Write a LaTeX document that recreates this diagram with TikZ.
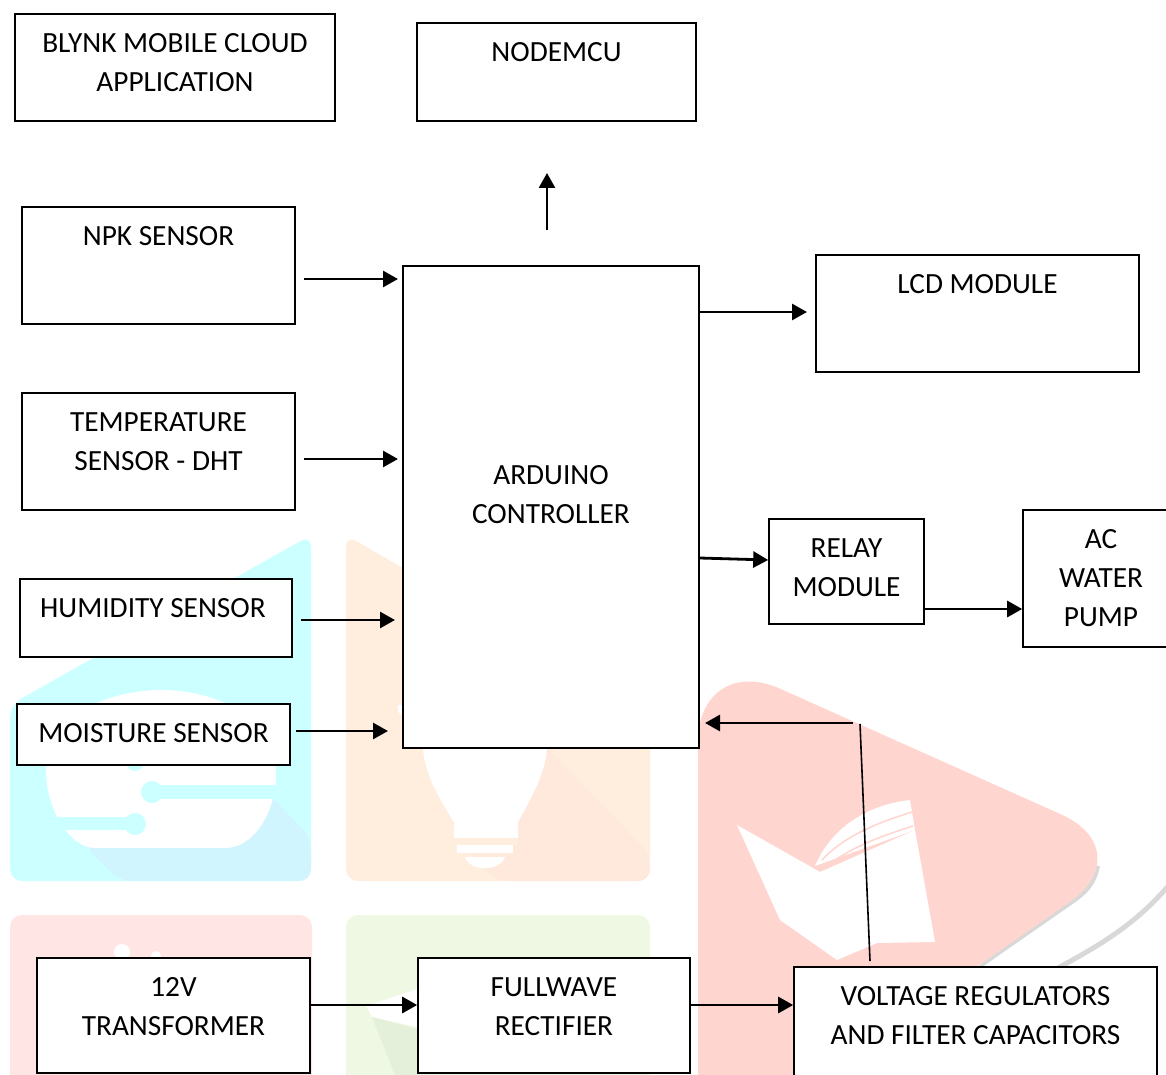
\documentclass[tikz,border=0pt]{standalone}
\usepackage{fontspec}
\setmainfont{Carlito}
\usetikzlibrary{arrows.meta}
\definecolor{wmcyan}{HTML}{CCFFFF}
\definecolor{wmcyanb}{HTML}{D1F5FF}
\definecolor{wmorange}{HTML}{FFEEDD}
\definecolor{wmorangeb}{HTML}{FFE8DC}
\definecolor{wmpink}{HTML}{FFE6E4}
\definecolor{wmgreen}{HTML}{EEF8E2}
\definecolor{wmgreenb}{HTML}{E4F0DA}
\definecolor{wmred}{HTML}{FFD5CF}
\definecolor{wmgray}{HTML}{D8D8D8}
\tikzset{
	block/.style={draw=black,fill=white,line width=1.6pt,minimum width=#1},
	boxtext/.style={anchor=north,inner sep=0pt,inner ysep=20pt,align=center,font=\fontsize{29.3}{39}\selectfont},
	arrow/.style={line width=2.8pt,-{Triangle[length=15pt,width=16pt]}},
}
\begin{document}
\begin{tikzpicture}[x=1pt,y=-1pt]
		\clip (0,0) rectangle (1166,1075);
		% background marks
		\fill[wmcyan,rounded corners=12pt] (10,705) -- (311,535) -- (311,881) -- (10,881) -- cycle;
		\fill[wmcyanb,rounded corners=12pt] (265,790) -- (311,838) -- (311,881) -- (120,881) -- (84,845) -- cycle;
		\fill[white] (46,770) .. controls (46,715) and (110,690) .. (161,690) .. controls (220,690) and (276,720) .. (276,775) .. controls (276,810) and (255,848) .. (225,848) -- (95,848) .. controls (70,848) and (46,810) .. (46,770) -- cycle;
		\fill[wmcyan] (151,785) rectangle (280,799);
		\fill[wmcyan] (152,792) circle (11);
		\fill[wmcyan] (40,817) rectangle (143,830);
		\fill[wmcyan] (135,824) circle (11);
		\fill[wmcyan] (135,762) circle (9);
		\fill[wmorange,rounded corners=12pt] (346,535) -- (650,712) -- (650,881) -- (346,881) -- cycle;
		\fill[wmorangeb,rounded corners=12pt] (540,740) -- (650,855) -- (650,881) -- (497,881) -- (465,850) -- cycle;
		\fill[white] (398,705) -- (398,712) -- (410,720) -- (423,749) .. controls (425,775) and (440,800) .. (454,822) -- (454,838) -- (518,838) -- (518,822) .. controls (530,800) and (545,775) .. (547,749) -- (570,700) -- cycle;
		\fill[wmorange] (454,838) rectangle (518,845);
		\fill[white] (457,845) rectangle (513,853);
		\fill[white] (465,857) -- (505,857) .. controls (500,872) and (470,872) .. (465,857) -- cycle;
		\fill[wmpink,rounded corners=12pt] (10,915) rectangle (312,1100);
		\fill[white] (122,952) circle (8);
		\fill[white] (156,956) circle (5);
		\fill[wmgreen,rounded corners=12pt] (346,915) rectangle (650,1100);
		\fill[white] (366,1006) -- (417,989) -- (417,1027) -- (372,1017) -- cycle;
		\fill[wmgreenb] (372,1017) -- (417,1029) -- (417,1075) -- (395,1075) -- cycle;
		\draw[wmgray,line width=4pt] (1098,866) .. controls (1094,885) and (1085,893) .. (1072,902) -- (980,966);
		\draw[wmgray,line width=5pt] (1170,884) .. controls (1135,925) and (1100,945) .. (1058,968);
		\fill[wmred,rounded corners=90pt] (698,1200) -- (698,652) -- (1143,851) -- (800,1090) -- (800,1200) -- cycle;
		\fill[white] (737,825) -- (820,872) -- (915,830) -- (935,942) -- (877,943) -- (837,960) -- (780,920) -- cycle;
		\fill[white] (815,866) .. controls (830,830) and (865,805) .. (910,800) -- (915,830) -- cycle;
		\draw[wmred,line width=1.5pt] (822,860) .. controls (845,835) and (880,822) .. (912,812);
		\draw[wmred,line width=1.5pt] (828,865) .. controls (855,845) and (885,835) .. (913,826);
		% blocks
		\node[block=320pt,minimum height=107pt,label={[boxtext]north:BLYNK MOBILE CLOUD\\APPLICATION}] (Blynk) at (175,67.5) {};
		\node[block=279pt,minimum height=98pt,label={[boxtext]north:NODEMCU}] (Nodemcu) at (556.5,72) {};
		\node[block=273pt,minimum height=117pt,label={[boxtext]north:NPK SENSOR}] (Npk) at (158.5,265.5) {};
		\node[block=273pt,minimum height=117pt,label={[boxtext]north:TEMPERATURE\\SENSOR - DHT}] (Temp) at (158.5,451.5) {};
		\node[block=272pt,minimum height=78pt,label={[boxtext,xshift=-3pt]north:HUMIDITY SENSOR}] (Humid) at (156,618) {};
		\node[block=273pt,minimum height=61pt,label={[boxtext]north:MOISTURE SENSOR}] (Moist) at (153.5,734.5) {};
		\node[block=296pt,minimum height=482pt,label={[boxtext,yshift=-180pt]north:ARDUINO\\CONTROLLER}] (Ard) at (551,507) {};
		\node[block=323pt,minimum height=117pt,label={[boxtext]north:LCD MODULE}] (Lcd) at (977.5,313.5) {};
		\node[block=155pt,minimum height=105pt,label={[boxtext]north:RELAY\\MODULE}] (Relay) at (846.5,571.5) {};
		\node[block=156pt,minimum height=137pt,label={[boxtext]north:AC\\WATER\\PUMP}] (Pump) at (1101,578.5) {};
		\node[block=273pt,minimum height=115pt,label={[boxtext]north:12V\\TRANSFORMER}] (Trans) at (173.5,1015.5) {};
		\node[block=272pt,minimum height=115pt,label={[boxtext]north:FULLWAVE\\RECTIFIER}] (Rect) at (554,1015.5) {};
		\node[block=363pt,minimum height=113pt,label={[boxtext]north:VOLTAGE REGULATORS\\AND FILTER CAPACITORS}] (Volt) at (975.5,1023.5) {};
		% free ends
		\coordinate (Up0) at (547,230);
		\coordinate (Up1) at (547,173);
		\coordinate (Npk0) at (304,279);
		\coordinate (Npk1) at (398,279);
		\coordinate (Temp0) at (304,459);
		\coordinate (Temp1) at (398,459);
		\coordinate (Humid0) at (301,620);
		\coordinate (Humid1) at (395,620);
		\coordinate (Moist0) at (296,731);
		\coordinate (Moist1) at (388,731);
		\coordinate (Lcd1) at (807,312);
		\coordinate (Back0) at (853,723);
		\coordinate (Back1) at (705,723);
		\coordinate (Tap0) at (860,724);
		\coordinate (Tap1) at (870,961);
		% connectors
		\draw[arrow] (Up0) -- (Up1);
		\draw[arrow] (Npk0) -- (Npk1);
		\draw[arrow] (Temp0) -- (Temp1);
		\draw[arrow] (Humid0) -- (Humid1);
		\draw[arrow] (Moist0) -- (Moist1);
		\draw[arrow] (Ard.east |- Lcd1) -- (Lcd1);
		\draw[arrow] (Ard.east |- 0,558) -- (Relay.west |- 0,560);
		\draw[arrow] (Relay.east |- 0,609) -- (Pump.west |- 0,609);
		\draw[arrow] (Back0) -- (Back1);
		\draw[line width=1.6pt] (Tap0) -- (Tap1);
		\draw[arrow] (Trans.east |- 0,1005) -- (Rect.west |- 0,1005);
		\draw[arrow] (Rect.east |- 0,1005) -- (Volt.west |- 0,1005);
\end{tikzpicture}
\end{document}
